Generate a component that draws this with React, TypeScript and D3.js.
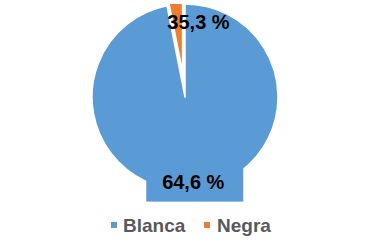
import React from "react";
import * as d3 from "d3";

const categories = ["Blanca", "Negra"];
const sliceValues = [96.9, 3.1];
const labelTexts = ["64,6 %", "35,3 %"];
const colors = ["#5B9BD5", "#ED7D31"];

const W = 383;
const H = 248;

export default function App() {
  const cx = 185;
  const cy = 97;
  const r = 93;
  const pie = d3.pie<number>().sort(null).value((d) => d)(sliceValues);
  const arc = d3.arc<d3.PieArcDatum<number>>().innerRadius(0).outerRadius(r);
  const explode = [0, 25];
  const font = "'Liberation Sans', Arial, sans-serif";

  return (
    <svg width={W} height={H} style={{ position: "absolute", left: 0, top: 0 }}>
      <defs>
        <clipPath id="plot">
          <rect x={0} y={cy - r} width={W} height={H} />
        </clipPath>
      </defs>
      <rect width={W} height={H} fill="#fff" />
      <g clipPath="url(#plot)">
        {pie.map((p, i) => {
          const mid = (p.startAngle + p.endAngle) / 2;
          const dx = Math.sin(mid) * explode[i];
          const dy = -Math.cos(mid) * explode[i];
          return (
            <path
              key={i}
              d={arc(p) || ""}
              transform={`translate(${cx + dx},${cy + dy})`}
              fill={colors[i]}
              stroke="#fff"
              strokeWidth={1.5}
              strokeLinejoin="round"
            />
          );
        })}
      </g>
      {(() => {
        const p = pie[0];
        const mid = (p.startAngle + p.endAngle) / 2;
        const lx = cx + Math.sin(mid) * 85;
        const ly = cy - Math.cos(mid) * 85;
        return (
          <g>
            <rect x={lx - 47} y={ly - 14} width={97} height={34} fill={colors[0]} />
            <text x={lx} y={ly + 7} textAnchor="middle" fontFamily={font} fontWeight="bold" fontSize={20} fill="#000">
              {labelTexts[0]}
            </text>
          </g>
        );
      })()}
      <text x={cx + 13.5} y={29} textAnchor="middle" fontFamily={font} fontWeight="bold" fontSize={20} fill="#000">
        {labelTexts[1]}
      </text>
      <g fontFamily={font} fontWeight="bold" fontSize={19} fill="#595959">
        <rect x={111} y={222} width={6} height={6} fill={colors[0]} />
        <text x={123} y={232}>{categories[0]}</text>
        <rect x={204} y={222} width={6} height={6} fill={colors[1]} />
        <text x={217} y={232}>{categories[1]}</text>
      </g>
    </svg>
  );
}
